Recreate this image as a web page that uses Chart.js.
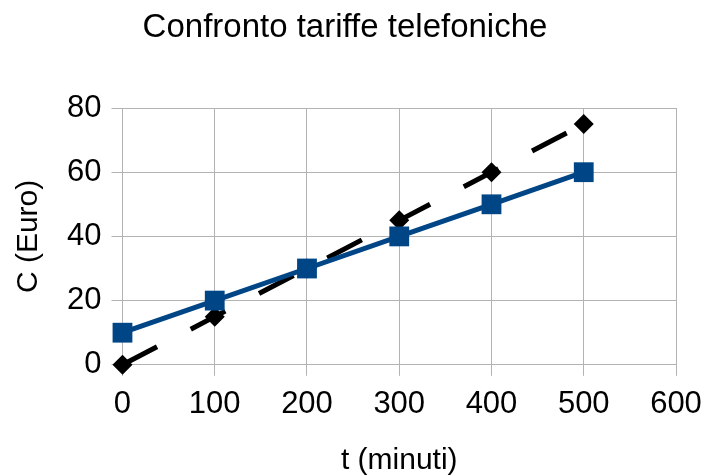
<!DOCTYPE html>
<html>
<head>
<meta charset="utf-8">
<script src="https://cdn.jsdelivr.net/npm/chart.js@4/dist/chart.umd.min.js"></script>
<style>
  html, body { margin: 0; padding: 0; background: #fff; }
  #wrap { width: 706px; height: 476px; }
</style>
</head>
<body>
<div id="wrap"><canvas id="chart" width="706" height="476"></canvas></div>
<script>
const minutes = [0, 100, 200, 300, 400, 500];
const tariffaA = [10, 20, 30, 40, 50, 60];
const tariffaB = [0, 15, 30, 45, 60, 75];

const xTicks = [0, 100, 200, 300, 400, 500, 600];
const yTicks = [0, 20, 40, 60, 80];

const gridColor = '#b3b3b3';
const font = 'Liberation Sans, Arial, sans-serif';

function toPoints(xs, ys) {
  return xs.map((x, i) => ({ x: x, y: ys[i] }));
}

const ctx = document.getElementById('chart').getContext('2d');

new Chart(ctx, {
  type: 'line',
  data: {
    datasets: [
      {
        label: 'Tariffa A',
        data: toPoints(minutes, tariffaA),
        borderColor: '#004586',
        backgroundColor: '#004586',
        borderWidth: 5,
        pointStyle: 'rect',
        pointRadius: 14,
        pointBorderWidth: 0,
        tension: 0,
        clip: false
      },
      {
        label: 'Tariffa B',
        data: toPoints(minutes, tariffaB),
        borderColor: '#000000',
        backgroundColor: '#000000',
        borderWidth: 5,
        borderDash: [39, 38],
        pointStyle: 'rectRot',
        pointRadius: 10,
        pointBorderWidth: 0,
        tension: 0,
        clip: false
      }
    ]
  },
  options: {
    responsive: false,
    animation: false,
    layout: {
      padding: { left: 14, right: 30, top: 0, bottom: 0 }
    },
    plugins: {
      legend: { display: false },
      tooltip: { enabled: false },
      title: {
        display: true,
        text: 'Confronto tariffe telefoniche',
        color: '#000',
        font: { family: font, size: 33, weight: 'normal', lineHeight: 1.2 },
        padding: { top: 8, bottom: 60.4 }
      }
    },
    scales: {
      x: {
        type: 'linear',
        min: 0,
        max: 600,
        afterBuildTicks: axis => { axis.ticks = xTicks.map(v => ({ value: v })); },
        // last label fits inside the layout padding, so don't reserve extra room
        afterFit: axis => { axis.paddingRight = 0; },
        grid: { color: gridColor, tickLength: 11, tickColor: gridColor },
        border: { color: gridColor },
        ticks: {
          color: '#000',
          padding: 10,
          maxRotation: 0,
          font: { family: font, size: 31, lineHeight: 1.2 }
        },
        title: {
          display: true,
          text: 't (minuti)',
          color: '#000',
          font: { family: font, size: 30, lineHeight: 1 },
          padding: { top: 13, bottom: 0 }
        }
      },
      y: {
        type: 'linear',
        min: 0,
        max: 80,
        afterBuildTicks: axis => { axis.ticks = yTicks.map(v => ({ value: v })); },
        grid: { color: gridColor, tickLength: 11, tickColor: gridColor },
        border: { color: gridColor },
        ticks: {
          color: '#000',
          padding: 10,
          font: { family: font, size: 31, lineHeight: 1.2 }
        },
        title: {
          display: true,
          text: 'C (Euro)',
          color: '#000',
          font: { family: font, size: 30, lineHeight: 1 },
          padding: { top: 0, bottom: 13 }
        }
      }
    }
  }
});
</script>
</body>
</html>
